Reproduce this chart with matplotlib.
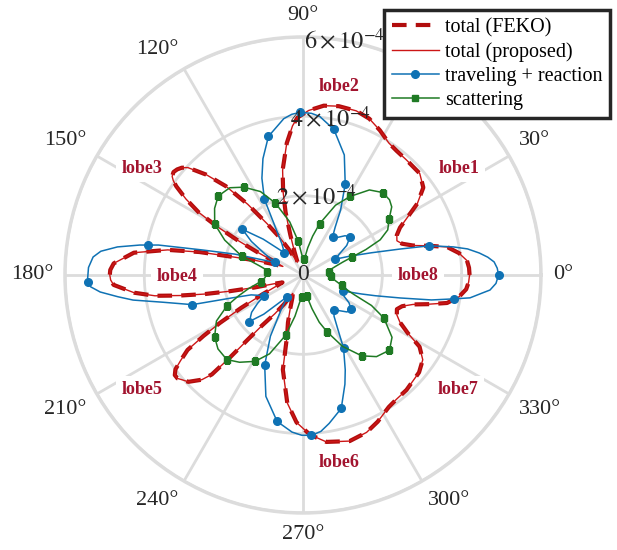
import numpy as np
import matplotlib
matplotlib.use('Agg')
import matplotlib.pyplot as plt
from matplotlib.lines import Line2D

plt.rcParams['font.family'] = ['Liberation Serif', 'DejaVu Serif']
plt.rcParams['mathtext.fontset'] = 'stix'

# radii are in units of 1e-4, angles in degrees
total_deg = [0, 2.5, 5, 8, 11, 13, 15, 17.5, 20, 23, 26,
             29, 32, 36, 41, 48, 53, 57, 62, 67, 72,
             78, 83, 88, 92, 94, 97, 101, 103.5, 105.5, 107.5,
             110, 113, 116, 119, 122, 125, 128, 131, 134, 137,
             138.5, 140, 141.5, 143, 144, 145, 147, 149, 150.5, 152,
             153.5, 155, 157, 160, 163, 165.5, 167.5, 169.5, 172.5, 176.5,
             178.5, 180, 181.5, 183, 186, 188, 189.5, 191, 192.5, 194.5,
             197, 200, 203, 205.5, 208, 210, 211.5, 213, 215, 216.5,
             218, 219.5, 221, 223, 226, 227.5, 228.5, 229.5, 231, 234,
             237, 241, 245, 249.5, 252.5, 255.5, 258, 263, 267.5, 272.5,
             278, 285.7, 292, 297, 303, 307, 312, 316, 320, 324.7,
             328.4, 331, 334, 337, 340, 342.5, 345, 347, 349, 352,
             355, 357.5, 360]
total_r = [4.20, 4.19, 4.15, 3.97, 3.70, 3.27, 2.87, 2.62, 2.52, 2.57, 2.72,
           3.02, 3.40, 3.75, 3.90, 3.90, 3.92, 3.97, 4.13, 4.28, 4.35,
           4.35, 4.30, 4.15, 3.97, 3.77, 3.35, 2.69, 2.14, 1.64, 1.06,
           0.63, 0.35, 0.45, 0.75, 1.13, 1.58, 2.26, 2.97, 3.52, 3.97,
           4.08, 4.14, 4.17, 4.13, 4.04, 3.90, 3.52, 3.07, 2.52, 1.89,
           1.26, 0.75, 0.55, 0.81, 1.26, 1.81, 2.67, 3.47, 4.30, 4.78,
           4.86, 4.87, 4.85, 4.78, 4.28, 3.77, 3.14, 2.52, 1.89, 1.26,
           0.75, 0.55, 0.75, 1.13, 1.76, 2.42, 2.94, 3.47, 3.77, 4.00,
           4.10, 4.10, 4.03, 3.95, 3.67, 3.40, 2.77, 2.14, 1.64, 1.21,
           0.88, 0.53, 0.63, 0.93, 1.26, 1.61, 2.44, 3.25, 3.72, 4.03,
           4.25, 4.35, 4.28, 4.15, 3.97, 3.92, 3.90, 3.85, 3.82, 3.70,
           3.45, 3.02, 2.72, 2.57, 2.52, 2.62, 2.87, 3.27, 3.70, 3.97,
           4.13, 4.18, 4.20]

trav_deg = [0, 2, 3.9, 5.5, 7.1, 9, 10.6, 13, 15, 18, 22, 26, 30,
            34, 39, 43, 47, 52, 56, 60, 65, 71, 78,
            84, 87, 91, 94, 97, 104, 109, 113, 117, 120, 124, 130,
            134, 138, 143, 147, 151, 156, 160, 163, 166, 168.3,
            169.6, 171.4, 173.3, 175.1, 178, 181, 183.2, 184.8, 186.7, 188.4,
            191, 195, 198, 201, 208,
            212, 216, 221, 225, 229, 234, 238, 242, 247, 253,
            260, 266, 269.5, 273, 276.5, 280, 286, 291, 294, 299, 303, 307,
            312, 316, 320, 325, 329, 333, 338, 342, 344, 346.7,
            349, 351, 352.2, 354.3, 355.4, 357.5, 360]
trav_r = [4.93, 4.90, 4.83, 4.68, 4.48, 4.20, 3.85, 3.27, 2.52, 1.81, 1.26, 0.91, 1.06,
          1.33, 1.53, 1.45, 1.30, 1.21, 1.45, 1.90, 2.52, 3.20, 3.75,
          4.02, 4.08, 4.10, 4.06, 3.97, 3.60, 3.10, 2.65, 2.14, 1.40, 0.95, 0.73,
          0.95, 1.35, 1.91, 1.55, 1.10, 0.78, 1.15, 1.80, 2.60, 3.72,
          4.18, 4.73, 5.13, 5.31, 5.41, 5.43, 5.36, 5.13, 4.70, 4.33,
          3.60, 2.89, 1.86, 1.40, 1.11,
          1.35, 1.60, 1.79, 1.40, 0.95, 0.68, 1.05, 1.75, 2.47, 3.20,
          3.75, 3.97, 4.04, 4.05, 3.97, 3.80, 3.50, 2.95, 2.62, 2.11, 1.60, 1.30,
          1.18, 1.30, 1.45, 1.48, 1.35, 1.15, 1.08, 1.55, 1.90, 2.52,
          3.30, 3.85, 4.25, 4.55, 4.73, 4.87, 4.93]
trav_mark_deg = [0, 13, 26, 39, 52, 65, 78, 91, 104, 117, 130, 143, 156, 169,
                 182, 195, 208, 221, 234, 247, 260, 273, 286, 299, 312, 325, 338, 351]
trav_mark_r = [4.93, 3.27, 0.91, 1.53, 1.21, 2.52, 3.75, 4.10, 3.60, 2.14, 0.73, 1.91, 0.78, 3.97,
               5.42, 2.89, 1.11, 1.79, 0.68, 2.47, 3.75, 4.05, 3.50, 2.11, 1.18, 1.48, 1.08, 3.85]

scat_deg = [0, 4, 7, 11, 15, 18, 20, 22, 24.5, 28,
            33, 37.5, 41, 46, 52, 59, 65, 72, 76, 80,
            85, 89, 93, 98, 104, 111, 117, 124, 130, 137,
            143, 150, 156, 163, 168, 172, 176, 180, 184, 189,
            194, 198, 202, 208, 215, 221, 228, 234, 241, 247,
            254, 259, 263, 267, 271, 275, 280, 285, 289, 293,
            299, 306, 312, 319, 325, 332, 336, 339, 342, 345,
            350, 354, 358, 360]
scat_r = [0.68, 0.68, 0.65, 0.70, 0.86, 1.06, 1.31, 1.71, 2.14, 2.42,
          2.59, 2.82, 2.89, 2.89, 2.72, 2.31, 1.94, 1.36, 1.01, 0.70,
          0.40, 0.30, 0.50, 0.86, 1.38, 1.94, 2.36, 2.67, 2.87, 2.92,
          2.79, 2.57, 2.16, 1.61, 1.13, 0.93, 0.91, 0.93, 0.96, 1.08,
          1.41, 1.71, 2.06, 2.47, 2.72, 2.84, 2.87, 2.72, 2.49, 2.16,
          1.58, 1.06, 0.70, 0.55, 0.48, 0.48, 0.53, 0.88, 1.26, 1.56,
          2.06, 2.52, 2.77, 2.89, 2.74, 2.31, 1.89, 1.38, 1.13, 1.01,
          0.83, 0.73, 0.70, 0.68]
scat_mark_deg = [7, 20, 33, 46, 59, 72, 85, 98, 111, 124, 137, 150, 163, 176,
                 189, 202, 215, 228, 241, 254, 267, 280, 293, 306, 319, 332, 345, 358]
scat_mark_r = [0.65, 1.31, 2.59, 2.89, 2.31, 1.36, 0.40, 0.86, 1.94, 2.67, 2.92, 2.57, 1.61, 0.91,
               1.08, 2.06, 2.72, 2.87, 2.49, 1.58, 0.55, 0.53, 1.56, 2.52, 2.89, 2.31, 1.01, 0.70]

lobe_names = ['lobe1', 'lobe2', 'lobe3', 'lobe4', 'lobe5', 'lobe6', 'lobe7', 'lobe8']
lobe_deg = [34.4, 79.2, 146.4, 180.5, 215.5, 280.8, 323.4, 359.5]
lobe_r = [4.76, 4.84, 4.86, 3.17, 4.98, 4.81, 4.86, 2.89]

r_ticks = [2, 4, 6]
theta_ticks = list(range(0, 360, 30))

SCALE = 1e-4
c_feko = '#b10d0d'
c_prop = '#cc1616'
c_trav = '#0f72b4'
c_scat = '#1f7a24'
c_lobe = '#a2142f'

fig = plt.figure(figsize=(6.17, 5.5), dpi=100)
ax = fig.add_axes([0.1053, 0.0673, 0.7715, 0.8655], projection='polar')

d2r = np.deg2rad
ax.plot(d2r(total_deg), np.array(total_r) * SCALE, color=c_feko, lw=3, dashes=(3.5, 2.2), zorder=3)
ax.plot(d2r(total_deg), np.array(total_r) * SCALE, color=c_prop, lw=1.0, zorder=4)
ax.plot(d2r(trav_deg), np.array(trav_r) * SCALE, color=c_trav, lw=1.1, zorder=5)
ax.plot(d2r(trav_mark_deg), np.array(trav_mark_r) * SCALE, 'o', color=c_trav, ms=5.5, zorder=5)
ax.plot(d2r(scat_deg), np.array(scat_r) * SCALE, color=c_scat, lw=1.1, zorder=6)
ax.plot(d2r(scat_mark_deg), np.array(scat_mark_r) * SCALE, 's', color=c_scat, ms=4.5, zorder=6)

ax.set_ylim(0, 6 * SCALE)
ax.set_yticks([v * SCALE for v in r_ticks])
ax.set_yticklabels([])
ax.set_xticks(d2r(theta_ticks))
ax.set_xticklabels([])
ax.grid(True, color='#dcdcdc', lw=2)
ax.spines['polar'].set_color('#dcdcdc')
ax.spines['polar'].set_linewidth(2.5)
ax.set_axisbelow(True)

# angle labels outside the circle (60° sits under the legend, as in the original)
for a in theta_ticks:
    if a == 60:
        continue
    c, s = np.cos(d2r(a)), np.sin(d2r(a))
    ha = 'left' if c > 0.1 else ('right' if c < -0.1 else 'center')
    va = 'bottom' if s > 0.1 else ('top' if s < -0.1 else 'center')
    ax.text(d2r(a), 6.3 * SCALE, f'{a}°', ha=ha, va=va, fontsize=16, color='#262626')

# radial labels
for v in r_ticks:
    ax.text(d2r(80), v * SCALE, rf'${v}\times10^{{-4}}$', ha='center', va='center',
            fontsize=17.5, color='#262626', zorder=8)
ax.text(0, 0, '0', ha='center', va='center', fontsize=17, color='#262626', zorder=8)

for name, a, r in zip(lobe_names, lobe_deg, lobe_r):
    ax.text(d2r(a), r * SCALE, name, ha='center', va='center', fontsize=13,
            fontweight='bold', color=c_lobe, zorder=2,
            bbox=dict(facecolor='white', edgecolor='none', pad=4))

handles = [
    Line2D([], [], color=c_feko, lw=3, dashes=(3.5, 2.2)),
    Line2D([], [], color=c_prop, lw=1.0),
    Line2D([], [], color=c_trav, lw=1.1, marker='o', ms=5.5),
    Line2D([], [], color=c_scat, lw=1.1, marker='s', ms=4.5),
]
labels = ['total (FEKO)', 'total (proposed)', 'traveling + reaction', 'scattering']
leg = fig.legend(handles, labels, loc='upper right', bbox_to_anchor=(0.989, 0.982),
                 fontsize=14.5, frameon=True, fancybox=False, edgecolor='#262626',
                 framealpha=1, borderpad=0.4, labelspacing=0.25, handlelength=2.3,
                 handletextpad=0.3, borderaxespad=0, numpoints=1)
leg.get_frame().set_linewidth(2.5)

fig.savefig('out.png', dpi=100)
